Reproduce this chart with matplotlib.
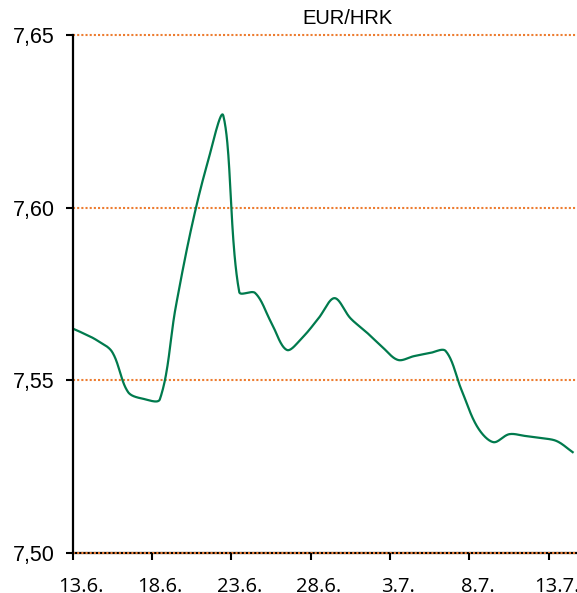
import numpy as np
import matplotlib
matplotlib.use('Agg')
import matplotlib.pyplot as plt

# EUR/HRK daily rate, day offsets counted from 13.6.
days = list(range(-1, 32))
rates = [7.5660, 7.5640, 7.5617, 7.5582, 7.5466, 7.5446, 7.5445, 7.5712,
         7.5944, 7.6129, 7.6266, 7.5756, 7.5753, 7.5669, 7.5588, 7.5625,
         7.5680, 7.5738, 7.5680, 7.5640, 7.5597, 7.5559, 7.5570, 7.5579,
         7.5585, 7.5472, 7.5365, 7.5321, 7.5344, 7.5339, 7.5333, 7.5324,
         7.5292]

x_tick_days = [0, 5, 10, 15, 20, 25, 30]
x_tick_labels = ['13.6.', '18.6.', '23.6.', '28.6.', '3.7.', '8.7.', '13.7.']
y_ticks = [7.50, 7.55, 7.60, 7.65]
y_tick_labels = ['7,50', '7,55', '7,60', '7,65']


def smooth_line(xs, ys, sx, sy, n=40):
    # Excel-like smoothed line: bezier through the points, tangents
    # weighted by the on-screen segment lengths (sx, sy = px per unit)
    xs = np.asarray(xs, float)
    ys = np.asarray(ys, float)
    px = np.concatenate([[xs[0]], xs, [xs[-1]]])
    py = np.concatenate([[ys[0]], ys, [ys[-1]]])

    def dist(i, j):
        return np.hypot((px[j] - px[i]) * sx, (py[j] - py[i]) * sy) + 1e-9

    outx, outy = [], []
    t = np.linspace(0, 1, n)
    for i in range(1, len(px) - 2):
        d01, d12, d23 = dist(i - 1, i), dist(i, i + 1), dist(i + 1, i + 2)
        w1 = d12 / (d01 + d12) / 3
        w2 = d12 / (d12 + d23) / 3
        c1x = px[i] + (px[i + 1] - px[i - 1]) * w1
        c1y = py[i] + (py[i + 1] - py[i - 1]) * w1
        c2x = px[i + 1] - (px[i + 2] - px[i]) * w2
        c2y = py[i + 1] - (py[i + 2] - py[i]) * w2
        b = [(1 - t) ** 3, 3 * (1 - t) ** 2 * t, 3 * (1 - t) * t ** 2, t ** 3]
        outx.extend(b[0] * px[i] + b[1] * c1x + b[2] * c2x + b[3] * px[i + 1])
        outy.extend(b[0] * py[i] + b[1] * c1y + b[2] * c2y + b[3] * py[i + 1])
    return outx, outy


W, H = 577, 593
fig = plt.figure(figsize=(W / 100, H / 100), dpi=100)
ax_w, ax_h = 580.6 - 72.5, 518
ax = fig.add_axes([72.5 / W, 40 / H, ax_w / W, ax_h / H])

x0, x1 = -0.5, 31.5
y0, y1 = 7.50, 7.65

for y in y_ticks:
    ax.axhline(y, color='#ED7D31', lw=1.5, ls=(0, (1, 1)), zorder=1, clip_on=False)

lx, ly = smooth_line(days, rates, ax_w / (x1 - x0), ax_h / (y1 - y0))
ax.plot(lx, ly, color='#007A4D', lw=1.6, zorder=3)

ax.set_xlim(x0, x1)
ax.set_ylim(y0, y1)

ax.set_xticks([d - 0.5 for d in x_tick_days])
ax.set_xticklabels([])
ax.set_xticks(x_tick_days, minor=True)
ax.set_xticklabels(x_tick_labels, minor=True, fontsize=14.5, family='Open Sans')
ax.tick_params(axis='x', which='minor', length=0, pad=17)
ax.tick_params(axis='x', which='major', length=5, width=1.5, direction='out')

ax.set_yticks(y_ticks)
ax.set_yticklabels(y_tick_labels, fontsize=15.5, family='Liberation Sans')
ax.tick_params(axis='y', length=5, width=1.5, direction='out', pad=8)

ax.spines['top'].set_visible(False)
ax.spines['right'].set_visible(False)
ax.spines['left'].set_linewidth(1.6)
ax.spines['bottom'].set_linewidth(1.6)
ax.spines['left'].set_zorder(4)
ax.spines['bottom'].set_zorder(0.5)

fig.text(348 / W, 1 - 18.5 / H, 'EUR/HRK', ha='center', va='center',
         fontsize=14.5, family='Liberation Sans')

plt.savefig('out.png', dpi=100)
plt.close(fig)
